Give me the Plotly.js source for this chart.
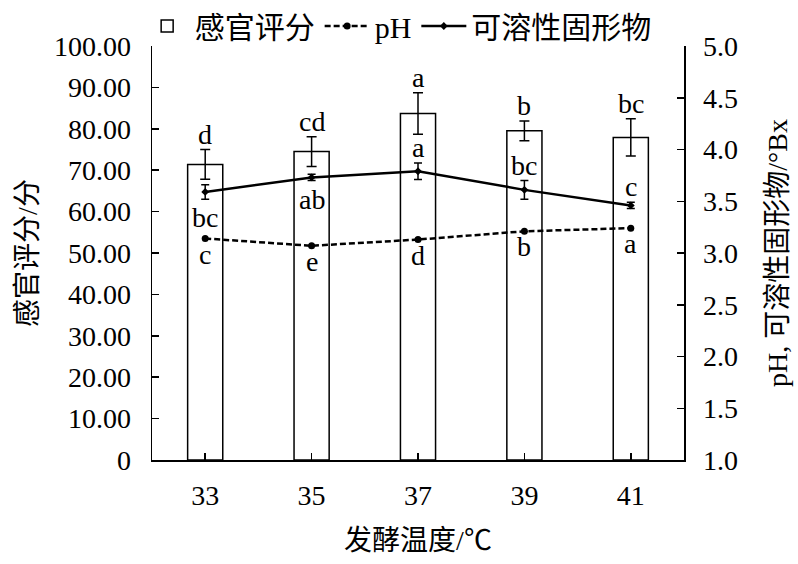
<!DOCTYPE html>
<html>
<head>
<meta charset="utf-8">
<script src="https://cdn.plot.ly/plotly-3.0.1.min.js"></script>
<style>html,body{margin:0;padding:0;background:#fff}#chart{width:798px;height:564px}</style>
</head>
<body>
<div id="chart"></div>
<script>
const temps = ['33', '35', '37', '39', '41'];
const sensory = [71.4, 74.5, 83.7, 79.5, 77.9];
const sensoryErr = [3.6, 3.6, 5.0, 2.4, 4.5];
const ph = [3.14, 3.07, 3.13, 3.21, 3.24];
const solids = [3.59, 3.73, 3.79, 3.61, 3.46];
const solidsErr = [0.07, 0.03, 0.08, 0.09, 0.03];
const sensoryLetters = ['d', 'cd', 'a', 'b', 'bc'];
const solidsLetters = ['bc', 'ab', 'a', 'bc', 'c'];
const solidsLetterSide = ['below', 'below', 'above', 'above', 'above'];
const phLetters = ['c', 'e', 'd', 'b', 'a'];
const leftTickVals = [0, 10, 20, 30, 40, 50, 60, 70, 80, 90, 100];
const leftTickText = ['0', '10.00', '20.00', '30.00', '40.00', '50.00', '60.00', '70.00', '80.00', '90.00', '100.00'];

const FONT = 'Liberation Serif, Times New Roman, Noto Sans CJK SC, serif';
const FS = 28;

const traces = [
  {
    type: 'bar', name: '感官评分', x: temps, y: sensory,
    marker: {color: '#ffffff', line: {color: '#000', width: 1.5}},
    width: 0.33,
    error_y: {type: 'data', array: sensoryErr, visible: true, color: '#000', thickness: 1.5, width: 5}
  },
  {
    type: 'scatter', mode: 'lines+markers', name: 'pH', x: temps, y: ph, yaxis: 'y2',
    line: {color: '#000', width: 2.5, dash: '6px,3px'},
    marker: {color: '#000', size: 7, symbol: 'circle'}
  },
  {
    type: 'scatter', mode: 'lines+markers', name: '可溶性固形物', x: temps, y: solids, yaxis: 'y2',
    line: {color: '#000', width: 2.5},
    marker: {color: '#000', size: 6, symbol: 'diamond'},
    error_y: {type: 'data', array: solidsErr, visible: true, color: '#000', thickness: 1.5, width: 4}
  }
];

const annotations = [];
const txtFont = {family: FONT, size: FS, color: '#000'};
sensoryLetters.forEach((t, i) => {
  annotations.push({x: i, y: sensory[i] + sensoryErr[i], xref: 'x', yref: 'y', text: t,
    showarrow: false, yanchor: 'bottom', yshift: -2, font: txtFont});
});
solidsLetters.forEach((t, i) => {
  const above = solidsLetterSide[i] === 'above';
  annotations.push({x: i, y: above ? solids[i] + solidsErr[i] : solids[i] - solidsErr[i], xref: 'x', yref: 'y2', text: t,
    showarrow: false, yanchor: above ? 'bottom' : 'top', yshift: above ? -2 : -1, font: txtFont});
});
phLetters.forEach((t, i) => {
  annotations.push({x: i, y: ph[i], xref: 'x', yref: 'y2', text: t,
    showarrow: false, yanchor: 'top', yshift: 2, font: txtFont});
});

const layout = {
  width: 798, height: 564,
  margin: {l: 152, r: 114, t: 46, b: 104, pad: 0, autoexpand: false},
  paper_bgcolor: '#fff', plot_bgcolor: '#fff',
  font: {family: FONT, size: FS, color: '#000'},
  showlegend: true,
  legend: {orientation: 'h', xref: 'container', yref: 'container', x: 0.175, xanchor: 'left', y: 1, yanchor: 'top',
    font: {family: FONT, size: 30, color: '#000'}, bgcolor: 'rgba(0,0,0,0)', itemwidth: 45, traceorder: 'normal'},
  xaxis: {
    type: 'category', range: [-0.5, 4.5],
    showline: true, linecolor: '#000', linewidth: 1.5,
    ticks: 'inside', ticklen: 7, tickwidth: 1.5, tickcolor: '#000',
    showgrid: false, zeroline: false, ticklabelstandoff: 10,
    tickfont: {family: FONT, size: FS},
    title: {text: '发酵温度/℃', font: {family: FONT, size: FS}, standoff: 20}
  },
  yaxis: {
    range: [0, 100], tickvals: leftTickVals, ticktext: leftTickText,
    showline: true, linecolor: '#000', linewidth: 1.5,
    ticks: 'inside', ticklen: 7, tickwidth: 1.5, tickcolor: '#000',
    showgrid: false, zeroline: false, ticklabelstandoff: 14,
    tickfont: {family: FONT, size: FS},
    title: {text: '感官评分/分', font: {family: FONT, size: FS}, standoff: 8}
  },
  yaxis2: {
    range: [1, 5], dtick: 0.5, tickformat: '.1f', overlaying: 'y', side: 'right',
    showline: true, linecolor: '#000', linewidth: 1.5,
    ticks: 'inside', ticklen: 7, tickwidth: 1.5, tickcolor: '#000',
    showgrid: false, zeroline: false, ticklabelstandoff: 12,
    tickfont: {family: FONT, size: FS},
    title: {text: 'pH, 可溶性固形物/°Bx', font: {family: FONT, size: FS}, standoff: 30}
  },
  annotations: annotations,
  bargap: 0.67
};

Plotly.newPlot('chart', traces, layout, {displayModeBar: false, staticPlot: true});
</script>
</body>
</html>
